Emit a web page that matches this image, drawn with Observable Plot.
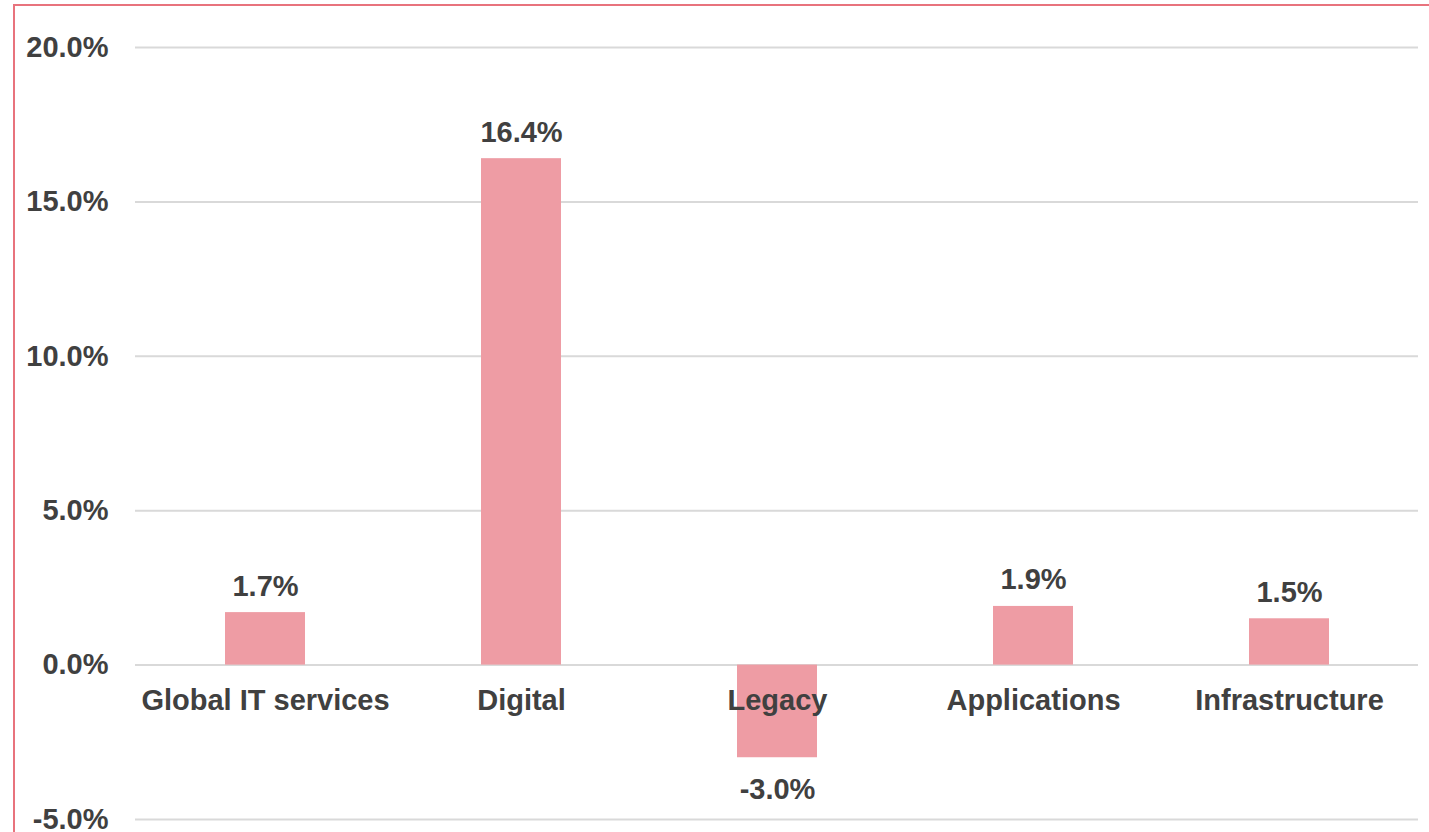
<!DOCTYPE html>
<html>
<head>
<meta charset="utf-8">
<script src="https://cdn.jsdelivr.net/npm/d3@7"></script>
<script src="https://cdn.jsdelivr.net/npm/@observablehq/plot@0.6"></script>
<style>
  html, body { margin: 0; padding: 0; background: #fff; overflow: hidden; width: 1429px; height: 832px; }
  #wrap { position: relative; width: 1429px; height: 832px; }
  #chart { position: absolute; left: 0; top: 0; }
  #chart svg, #chart svg text { font-family: "Liberation Sans", Arial, Helvetica, sans-serif !important; font-weight: bold; }
  #frame { position: absolute; left: 13px; top: 4px; width: 1500px; height: 900px; border: 2px solid #E8737D; box-sizing: border-box; pointer-events: none; }
</style>
</head>
<body>
<div id="wrap"><div id="chart"></div><div id="frame"></div></div>
<script>
const categories = ["Global IT services", "Digital", "Legacy", "Applications", "Infrastructure"];
const values = [1.7, 16.4, -3.0, 1.9, 1.5];
const yTicks = [-5, 0, 5, 10, 15, 20];

const data = categories.map((c, i) => ({category: c, value: values[i]}));
const fmt = d => d.toFixed(1) + "%";
const textColor = "#404040";
const fontSize = 29;
const ff = "Liberation Sans, Arial, sans-serif";

const chart = Plot.plot({
  width: 1429,
  height: 832,
  marginLeft: 135,
  marginRight: 11,
  marginTop: 47,
  marginBottom: 13,
  style: {fontFamily: ff, fontWeight: "bold", background: "transparent"},
  x: {domain: categories, paddingInner: 0.688, paddingOuter: 0.344, axis: null},
  y: {domain: [-5, 20], axis: null, label: null},
  marks: [
    Plot.ruleY(yTicks, {stroke: "#D9D9D9", strokeWidth: 2}),
    Plot.barY(data, {x: "category", y: "value", fill: "#EE9CA4"}),
    Plot.axisY({ticks: yTicks, label: null, tickSize: 0, tickPadding: 27, tickFormat: fmt, fontSize, fontWeight: "bold", fontFamily: ff, color: textColor}),
    Plot.text(data.filter(d => d.value >= 0), {x: "category", y: "value", text: d => fmt(d.value), lineAnchor: "bottom", dy: -17, fontSize, fontWeight: "bold", fontFamily: ff, fill: textColor}),
    Plot.text(data.filter(d => d.value < 0), {x: "category", y: "value", text: d => fmt(d.value), lineAnchor: "top", dy: 21, fontSize, fontWeight: "bold", fontFamily: ff, fill: textColor}),
    Plot.text(data, {x: "category", y: () => 0, text: "category", lineAnchor: "middle", dy: 36, fontSize, fontWeight: "bold", fontFamily: ff, fill: textColor})
  ]
});
document.getElementById("chart").appendChild(chart);
</script>
</body>
</html>
